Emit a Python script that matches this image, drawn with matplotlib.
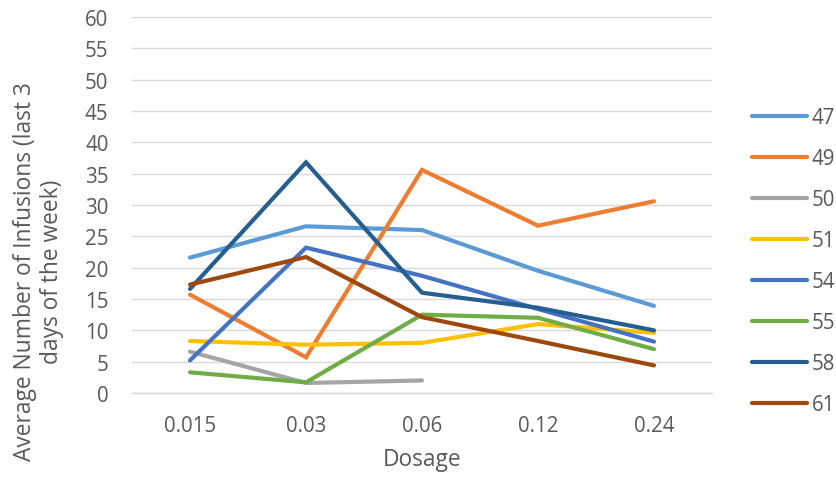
import matplotlib
matplotlib.use("Agg")
import matplotlib.pyplot as plt

plt.rcParams['font.family'] = ['Open Sans', 'DejaVu Sans']

dosages = ["0.015", "0.03", "0.06", "0.12", "0.24"]

s47 = [21.6, 26.6, 26.0, 19.5, 13.9]
s49 = [15.7, 5.7, 35.6, 26.7, 30.6]
s50 = [6.6, 1.6, 2.0]
s51 = [8.3, 7.7, 8.0, 11.0, 9.6]
s54 = [5.2, 23.2, 18.7, 13.4, 8.2]
s55 = [3.3, 1.7, 12.5, 12.0, 7.0]
s58 = [16.6, 36.8, 16.0, 13.6, 10.0]
s61 = [17.3, 21.7, 12.1, 8.3, 4.4]

series = [
    ("47", s47, "#5B9BD5"),
    ("49", s49, "#ED7D31"),
    ("50", s50, "#A5A5A5"),
    ("51", s51, "#FFC000"),
    ("54", s54, "#4472C4"),
    ("55", s55, "#70AD47"),
    ("58", s58, "#255E91"),
    ("61", s61, "#9E480E"),
]

text_color = "#595959"
tick_fs = 14.8
title_fs = 16.4

fig = plt.figure(figsize=(8.37, 4.81), dpi=100)
ax = fig.add_axes([132 / 837, 87 / 481, 580 / 837, 376 / 481])

for name, vals, color in series:
    ax.plot(range(len(vals)), vals, color=color, lw=3.0, label=name,
            solid_capstyle="round", solid_joinstyle="miter")

ax.set_xlim(-0.5, len(dosages) - 0.5)
ax.set_ylim(0, 60)
ax.set_yticks(range(0, 61, 5))
ax.set_xticks(range(len(dosages)))
ax.set_xticklabels(dosages)

ax.grid(axis="y", color="#D9D9D9", lw=1.0)
ax.set_axisbelow(True)
for sp in ["top", "right", "left"]:
    ax.spines[sp].set_visible(False)
ax.spines["bottom"].set_color("#D9D9D9")
ax.spines["bottom"].set_linewidth(1.0)

ax.tick_params(axis="both", length=0, labelsize=tick_fs, labelcolor=text_color)
ax.tick_params(axis="y", pad=17)
ax.tick_params(axis="x", pad=16)

ax.set_xlabel("Dosage", fontsize=title_fs, color=text_color, labelpad=8)
ax.set_ylabel("Average Number of Infusions (last 3\ndays of the week)",
              fontsize=title_fs, color=text_color, linespacing=1.2)
ax.yaxis.set_label_coords(-0.117, 0.325)

leg = fig.legend(loc="center left", bbox_to_anchor=(752 / 837, 0.455),
                 frameon=False, fontsize=tick_fs, handlelength=2.7,
                 handletextpad=0.2, labelspacing=0.97, borderpad=0,
                 borderaxespad=0)
for t in leg.get_texts():
    t.set_color(text_color)

fig.savefig("out.png", dpi=100)
